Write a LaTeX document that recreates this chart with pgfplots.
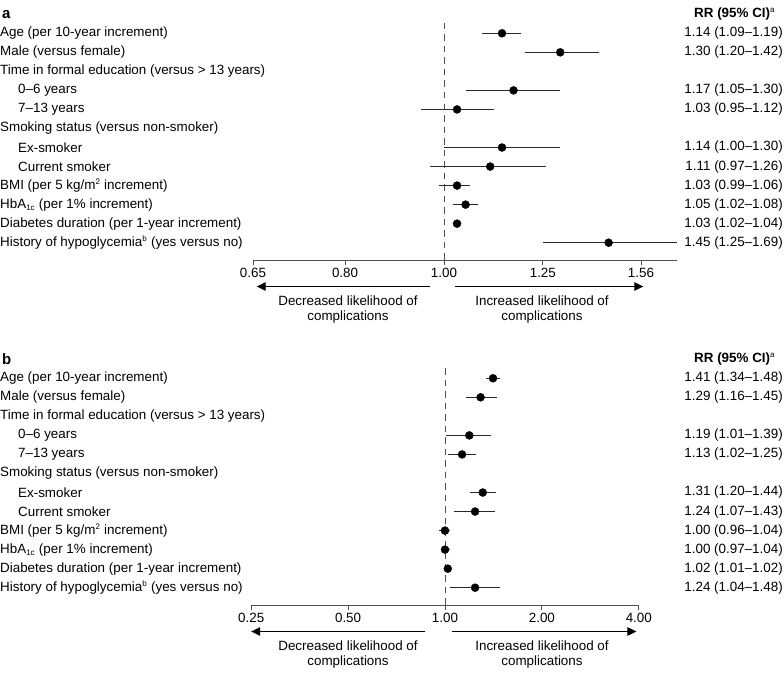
\documentclass[border=0pt]{standalone}
\usepackage{fontspec}
\setmainfont{Liberation Sans}
\usepackage{pgfplots}
\pgfplotsset{compat=1.18}
\usetikzlibrary{arrows.meta}
\newcommand{\fs}{\fontsize{13.4pt}{15pt}\selectfont}
\newcommand{\sus}[1]{\textsuperscript{\fontsize{8pt}{8pt}\selectfont #1}}
\newcommand{\sbs}[1]{\textsubscript{\fontsize{8pt}{8pt}\selectfont #1}}
\definecolor{axgray}{HTML}{505050}
\definecolor{linegray}{HTML}{2A2A2A}
\tikzset{lbl/.style={anchor=west, inner sep=0pt, font=\fs, text=black},
         val/.style={anchor=east, inner sep=0pt, font=\fs, text=black},
         ci/.style={linegray, line width=1.15pt},
         zero/.style={axgray, line width=0.9pt, dash pattern=on 6.5pt off 5pt}}
\begin{document}
\begin{tikzpicture}
% ---------------- Panel a ----------------
\begin{axis}[scale only axis, xmode=log, ymin=0.091, ymax=12.54, height=237pt,
  anchor=south west, axis y line=none, axis x line*=bottom,
  x axis line style={axgray, line width=0.9pt},
  xtick align=outside, major tick length=5pt,
  xtick style={axgray, line width=0.9pt}, minor xtick={},
  tick label style={font=\fs, text=black},
  /pgf/number format/assume math mode=true, clip=false,
  at={(253pt,-260pt)}, width=423.5pt, xmin=0.65, xmax=1.69,
  xtick={0.65,0.8,1,1.25,1.56}, xticklabels={0.65,0.80,1.00,1.25,1.56}]
\addplot[zero] coordinates {(1,12.54) (1,0.091)};
\addplot[ci] coordinates {(1.09,12) (1.19,12)};
\addplot[ci] coordinates {(1.20,11) (1.42,11)};
\addplot[ci] coordinates {(1.05,9) (1.30,9)};
\addplot[ci] coordinates {(0.95,8) (1.12,8)};
\addplot[ci] coordinates {(1.00,6) (1.30,6)};
\addplot[ci] coordinates {(0.97,5) (1.26,5)};
\addplot[ci] coordinates {(0.99,4) (1.06,4)};
\addplot[ci] coordinates {(1.02,3) (1.08,3)};
\addplot[ci] coordinates {(1.02,2) (1.04,2)};
\addplot[ci] coordinates {(1.25,1) (1.69,1)};
\addplot[only marks, mark=*, mark size=4pt, black] coordinates {
 (1.14,12) (1.30,11) (1.17,9) (1.03,8) (1.14,6) (1.11,5) (1.03,4) (1.05,3) (1.03,2) (1.45,1)};
\node[lbl, xshift=-251pt, font=\fontsize{15pt}{15pt}\selectfont\bfseries] at (axis cs:0.65,13) {a};
\node[lbl, xshift=17.5pt, font=\fs\bfseries] at (axis cs:1.69,13) {RR (95\% CI)\sus{\mdseries a}};
\node[lbl, xshift=-253pt] at (axis cs:0.65,12) {Age (per 10-year increment)};
\node[lbl, xshift=-253pt] at (axis cs:0.65,11) {Male (versus female)};
\node[lbl, xshift=-253pt] at (axis cs:0.65,10) {Time in formal education (versus > 13 years)};
\node[lbl, xshift=-235pt] at (axis cs:0.65,9) {0–6 years};
\node[lbl, xshift=-235pt] at (axis cs:0.65,8) {7–13 years};
\node[lbl, xshift=-253pt] at (axis cs:0.65,7) {Smoking status (versus non-smoker)};
\node[lbl, xshift=-235pt] at (axis cs:0.65,6) {Ex-smoker};
\node[lbl, xshift=-235pt] at (axis cs:0.65,5) {Current smoker};
\node[lbl, xshift=-253pt] at (axis cs:0.65,4) {BMI (per 5 kg/m\sus{2} increment)};
\node[lbl, xshift=-253pt] at (axis cs:0.65,3) {HbA\sbs{1c} (per 1\% increment)};
\node[lbl, xshift=-253pt] at (axis cs:0.65,2) {Diabetes duration (per 1-year increment)};
\node[lbl, xshift=-253pt] at (axis cs:0.65,1) {History of hypoglycemia\sus{b} (yes versus no)};
\node[val, xshift=106.5pt] at (axis cs:1.69,12) {1.14 (1.09–1.19)};
\node[val, xshift=106.5pt] at (axis cs:1.69,11) {1.30 (1.20–1.42)};
\node[val, xshift=106.5pt] at (axis cs:1.69,9) {1.17 (1.05–1.30)};
\node[val, xshift=106.5pt] at (axis cs:1.69,8) {1.03 (0.95–1.12)};
\node[val, xshift=106.5pt] at (axis cs:1.69,6) {1.14 (1.00–1.30)};
\node[val, xshift=106.5pt] at (axis cs:1.69,5) {1.11 (0.97–1.26)};
\node[val, xshift=106.5pt] at (axis cs:1.69,4) {1.03 (0.99–1.06)};
\node[val, xshift=106.5pt] at (axis cs:1.69,3) {1.05 (1.02–1.08)};
\node[val, xshift=106.5pt] at (axis cs:1.69,2) {1.03 (1.02–1.04)};
\node[val, xshift=106.5pt] at (axis cs:1.69,1) {1.45 (1.25–1.69)};
\end{axis}
\draw[black, line width=1.1pt, -{Triangle[length=9pt,width=8.5pt]}] (430pt,-286.5pt) -- (256.7pt,-286.5pt);
\draw[black, line width=1.1pt, -{Triangle[length=9pt,width=8.5pt]}] (455.4pt,-286.5pt) -- (643.3pt,-286.5pt);
\node[align=center, font=\fs, inner sep=0pt] at (348pt,-309.2pt) {Decreased likelihood of\\complications};
\node[align=center, font=\fs, inner sep=0pt] at (542pt,-309.2pt) {Increased likelihood of\\complications};
% ---------------- Panel b ----------------
\begin{axis}[scale only axis, xmode=log, ymin=0.091, ymax=12.54, height=237pt,
  anchor=south west, axis y line=none, axis x line*=bottom,
  x axis line style={axgray, line width=0.9pt},
  xtick align=outside, major tick length=5pt,
  xtick style={axgray, line width=0.9pt}, minor xtick={},
  tick label style={font=\fs, text=black},
  /pgf/number format/assume math mode=true, clip=false,
  at={(251.2pt,-605pt)}, width=387.6pt, xmin=0.25, xmax=4,
  xtick={0.25,0.5,1,2,4}, xticklabels={0.25,0.50,1.00,2.00,4.00}]
\addplot[zero] coordinates {(1,12.54) (1,0.091)};
\addplot[ci] coordinates {(1.34,12) (1.48,12)};
\addplot[ci] coordinates {(1.16,11) (1.45,11)};
\addplot[ci] coordinates {(1.01,9) (1.39,9)};
\addplot[ci] coordinates {(1.02,8) (1.25,8)};
\addplot[ci] coordinates {(1.20,6) (1.44,6)};
\addplot[ci] coordinates {(1.07,5) (1.43,5)};
\addplot[ci] coordinates {(0.96,4) (1.04,4)};
\addplot[ci] coordinates {(0.97,3) (1.04,3)};
\addplot[ci] coordinates {(1.01,2) (1.02,2)};
\addplot[ci] coordinates {(1.04,1) (1.48,1)};
\addplot[only marks, mark=*, mark size=4pt, black] coordinates {
 (1.41,12) (1.29,11) (1.19,9) (1.13,8) (1.31,6) (1.24,5) (1.00,4) (1.00,3) (1.02,2) (1.24,1)};
\node[lbl, xshift=-249.2pt, font=\fontsize{15pt}{15pt}\selectfont\bfseries] at (axis cs:0.25,13) {b};
\node[lbl, xshift=55.2pt, font=\fs\bfseries] at (axis cs:4,13) {RR (95\% CI)\sus{\mdseries a}};
\node[lbl, xshift=-251.2pt] at (axis cs:0.25,12) {Age (per 10-year increment)};
\node[lbl, xshift=-251.2pt] at (axis cs:0.25,11) {Male (versus female)};
\node[lbl, xshift=-251.2pt] at (axis cs:0.25,10) {Time in formal education (versus > 13 years)};
\node[lbl, xshift=-233.2pt] at (axis cs:0.25,9) {0–6 years};
\node[lbl, xshift=-233.2pt] at (axis cs:0.25,8) {7–13 years};
\node[lbl, xshift=-251.2pt] at (axis cs:0.25,7) {Smoking status (versus non-smoker)};
\node[lbl, xshift=-233.2pt] at (axis cs:0.25,6) {Ex-smoker};
\node[lbl, xshift=-233.2pt] at (axis cs:0.25,5) {Current smoker};
\node[lbl, xshift=-251.2pt] at (axis cs:0.25,4) {BMI (per 5 kg/m\sus{2} increment)};
\node[lbl, xshift=-251.2pt] at (axis cs:0.25,3) {HbA\sbs{1c} (per 1\% increment)};
\node[lbl, xshift=-251.2pt] at (axis cs:0.25,2) {Diabetes duration (per 1-year increment)};
\node[lbl, xshift=-251.2pt] at (axis cs:0.25,1) {History of hypoglycemia\sus{b} (yes versus no)};
\node[val, xshift=144.2pt] at (axis cs:4,12) {1.41 (1.34–1.48)};
\node[val, xshift=144.2pt] at (axis cs:4,11) {1.29 (1.16–1.45)};
\node[val, xshift=144.2pt] at (axis cs:4,9) {1.19 (1.01–1.39)};
\node[val, xshift=144.2pt] at (axis cs:4,8) {1.13 (1.02–1.25)};
\node[val, xshift=144.2pt] at (axis cs:4,6) {1.31 (1.20–1.44)};
\node[val, xshift=144.2pt] at (axis cs:4,5) {1.24 (1.07–1.43)};
\node[val, xshift=144.2pt] at (axis cs:4,4) {1.00 (0.96–1.04)};
\node[val, xshift=144.2pt] at (axis cs:4,3) {1.00 (0.97–1.04)};
\node[val, xshift=144.2pt] at (axis cs:4,2) {1.02 (1.01–1.02)};
\node[val, xshift=144.2pt] at (axis cs:4,1) {1.24 (1.04–1.48)};
\end{axis}
\draw[black, line width=1.1pt, -{Triangle[length=9pt,width=8.5pt]}] (425.4pt,-631.5pt) -- (251.2pt,-631.5pt);
\draw[black, line width=1.1pt, -{Triangle[length=9pt,width=8.5pt]}] (451.6pt,-631.5pt) -- (636.4pt,-631.5pt);
\node[align=center, font=\fs, inner sep=0pt] at (348pt,-654.2pt) {Decreased likelihood of\\complications};
\node[align=center, font=\fs, inner sep=0pt] at (542pt,-654.2pt) {Increased likelihood of\\complications};
\pgfresetboundingbox
\path[use as bounding box] (0pt,0pt) rectangle (784pt,-674pt);
\end{tikzpicture}
\end{document}
